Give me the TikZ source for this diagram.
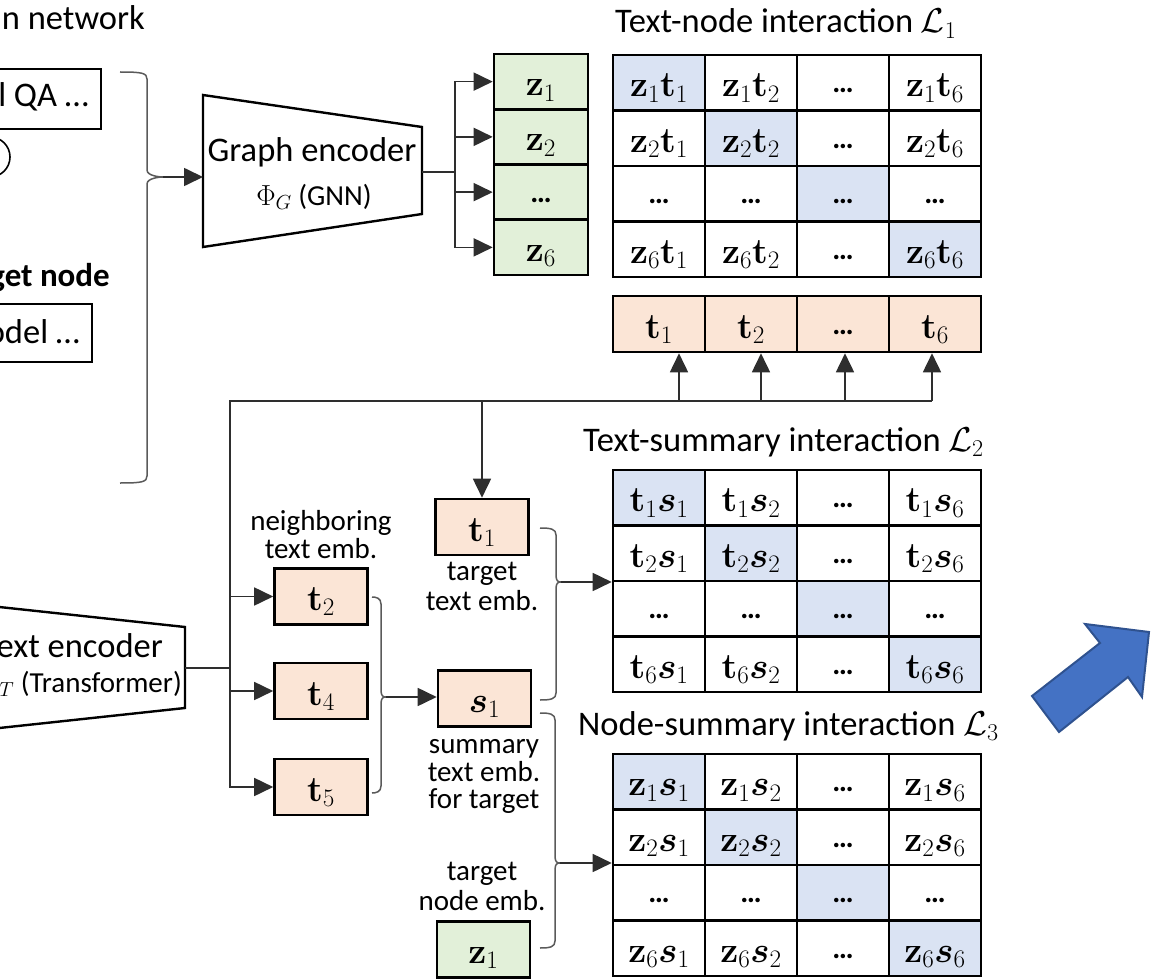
\documentclass[tikz,border=0pt]{standalone}
\usepackage{fix-cm}
\usepackage{amsmath,bm}
\usepackage[no-math]{fontspec}
\setmainfont{Carlito}
\usetikzlibrary{arrows.meta}

\definecolor{peach}{HTML}{FBE5D6}
\definecolor{leaf}{HTML}{E2F0D9}
\definecolor{diagblue}{HTML}{DAE3F3}
\definecolor{wire}{HTML}{2E2E2E}
\definecolor{bracegrey}{HTML}{5A5A5A}
\definecolor{arrowblue}{HTML}{4472C4}
\definecolor{arrowedge}{HTML}{2F528F}

\newcommand\ttlfont{\fontsize{34.5}{40}\selectfont}
\newcommand\lblfont{\fontsize{29}{28}\selectfont}
\newcommand\cellfont{\fontsize{36}{40}\selectfont}
\newcommand\dotsx{\raisebox{4pt}{\fontsize{30}{30}\selectfont\bfseries …}}

% cell contents of the three interaction matrices
\newcommand\zt[2]{$\mathbf{z}_{#1}\mathbf{t}_{#2}$}
\newcommand\ts[2]{$\mathbf{t}_{#1}\bm{s}_{#2}$}
\newcommand\zs[2]{$\mathbf{z}_{#1}\bm{s}_{#2}$}

\tikzset{
  wire/.style={draw=wire, line width=1.7pt},
  arr/.style={wire, -{Triangle[length=19pt,width=18pt]}},
  brace/.style={draw=bracegrey, line width=1.5pt},
  cell/.style={draw=black, line width=2.6pt, minimum width=92pt, minimum height=55.5pt,
    inner sep=0pt, text height=34pt, text depth=6pt, font=\cellfont},
  emb/.style={cell, minimum width=93pt, minimum height=56pt},
  lbl/.style={font=\lblfont, inner sep=0pt, anchor=base},
  title/.style={font=\ttlfont, inner sep=0pt, anchor=base west},
  encoder/.style={draw=black, line width=2.4pt, line join=miter},
  cropbox/.style={draw=black, line width=2.4pt, inner sep=0pt, anchor=north east},
}

% 4x4 interaction grid: #1 name prefix, #2 left x, #3 top y, #4 content macro
\newcommand\interactiongrid[4]{%
  \foreach \rw/\ri in {1/1,2/2,3/0,4/6}{%
    \foreach \cl/\ci in {1/1,2/2,3/0,4/6}{%
      \ifnum\rw=\cl\relax\def\cellfill{diagblue}\else\def\cellfill{white}\fi
      \node[cell, fill=\cellfill] (#1-\rw-\cl) at ({#2+92*(\cl-0.5)},{#3+55.5*(\rw-0.5)})
        {\ifnum\ri=0 \dotsx\else\ifnum\ci=0 \dotsx\else#4{\ri}{\ci}\fi\fi};
    }%
  }%
}

% brace: #1 x of the ends, #2 top y, #3 bottom y, #4 x of the spine, #5/#6 tip
\newcommand\bracepath[6]{%
  \draw[brace] (#1,#2) .. controls ({#4-5},#2) and (#4,{#2+1}) .. (#4,{#2+7})
    -- (#4,{#6-7}) .. controls (#4,{#6-1}) and ({#5-3},#6) .. (#5,#6)
    .. controls ({#5-3},#6) and (#4,{#6+1}) .. (#4,{#6+7})
    -- (#4,{#3-7}) .. controls (#4,{#3-1}) and ({#4-5},#3) .. (#1,#3);
}

\begin{document}
\begin{tikzpicture}[x=1pt, y=-1pt]
\useasboundingbox (0,0) rectangle (1152,979);

% ---------------- input graph (left) ----------------
\node[title, anchor=base east] (net) at (145,30) {n network};
\node[cropbox, minimum width=170pt, minimum height=60pt] (qa) at (102,68) {};
\node[title, anchor=base east] (qa-text) at (89,107) {l QA …};
\node[draw=black, line width=1.6pt, circle, minimum size=40pt, inner sep=0pt] (vert) at (-10,157) {};
\node[title, anchor=base east, font=\fontsize{33}{36}\selectfont\bfseries] (tgt) at (110,286) {get node};
\node[cropbox, minimum width=170pt, minimum height=58pt] (mdl) at (93,303) {};
\node[title, anchor=base east] (mdl-text) at (80,343) {odel …};

\bracepath{120}{72}{483}{147}{163}{177}
\coordinate (inbrace) at (163,177);

% ---------------- graph encoder ----------------
\draw[encoder, fill=white] (203,95) -- (422,127) -- (422,214) -- (203,247) -- cycle;
\node[title, anchor=base] (genc) at (312,162) {Graph encoder};
\node[lbl] (genc-sub) at (314,205) {$\Phi_G$ (GNN)};
\coordinate (genc-in) at (203,177);
\coordinate (genc-out) at (422,172);
\coordinate (gsplit) at (455,172);
\draw[arr] (inbrace) -- (genc-in);
\draw[wire] (genc-out) -- (gsplit);

% node embeddings
\foreach \i/\c in {1/{$\mathbf{z}_1$},2/{$\mathbf{z}_2$},3/{\dotsx},4/{$\mathbf{z}_6$}}{
  \node[cell, fill=leaf, minimum width=94pt, minimum height=55.25pt] (zc-\i) at (541,{54+55.25*(\i-0.5)}) {\c};
}
\foreach \i in {1,...,4}{ \draw[arr] (gsplit) |- (zc-\i.west); }

% ---------------- text-node interaction ----------------
\node[title] (L1title) at (615,33) {Text-node interaction $\mathcal{L}_1$};
\interactiongrid{A}{613}{55}{\zt}
\foreach \i/\c in {1/{$\mathbf{t}_1$},2/{$\mathbf{t}_2$},3/{\dotsx},4/{$\mathbf{t}_6$}}{
  \node[cell, fill=peach, minimum height=56pt] (tr-\i) at ({613+92*(\i-0.5)},324) {\c};
}

% ---------------- text encoder ----------------
\draw[encoder, fill=white] (-10,606) -- (185,627) -- (185,708) -- (-10,729);
\node[title, anchor=base east] (tenc) at (163,657) {ext encoder};
\node[lbl, anchor=base east] (tenc-sub) at (182,692) {$\Phi_T$ (Transformer)};
\coordinate (tenc-out) at (185,668);
\coordinate (tsplit) at (230,668);
\coordinate (bus-west) at (230,401);
\coordinate (bus-t) at (482,401);
\coordinate (bus-1) at (679,401);
\coordinate (bus-2) at (761,401);
\coordinate (bus-3) at (845,401);
\coordinate (bus-4) at (932,401);
\draw[wire] (tenc-out) -- (tsplit) -- (bus-west) -- (bus-4);
\foreach \i in {1,...,4}{ \draw[arr] (bus-\i) -- (bus-\i |- tr-\i.south); }

% text embeddings
\node[emb, fill=peach] (t1) at (482,527) {$\mathbf{t}_1$};
\node[lbl] (t1-l1) at (482,580) {target};
\node[lbl] (t1-l2) at (482,610) {text emb.};
\draw[arr] (bus-t) -- (t1.north);

\node[lbl] (nb-l1) at (321,530) {neighboring};
\node[lbl] (nb-l2) at (321,558) {text emb.};
\node[emb, fill=peach] (t2) at (321,596.5) {$\mathbf{t}_2$};
\node[emb, fill=peach] (t4) at (321,691) {$\mathbf{t}_4$};
\node[emb, fill=peach] (t5) at (321,787) {$\mathbf{t}_5$};
\draw[arr] (tsplit) |- (t2.west);
\draw[arr] (tsplit) |- (t4.west);
\draw[arr] (tsplit) |- (t5.west);

\node[emb, fill=peach] (s1) at (484.5,698.5) {$\bm{s}_1$};
\node[lbl] (s1-l1) at (484,753) {summary};
\node[lbl] (s1-l2) at (484,781) {text emb.};
\node[lbl] (s1-l3) at (484,808) {for target};

\node[lbl] (z1-l1) at (482,880) {target};
\node[lbl] (z1-l2) at (482,910) {node emb.};
\node[emb, fill=leaf] (z1) at (483.5,949.5) {$\mathbf{z}_1$};

% neighbours gathered into the summary
\bracepath{372}{597}{793}{381}{386}{697}
\coordinate (nbrace) at (386,697);
\draw[arr] (nbrace) -- (nbrace -| s1.west);

% ---------------- text-summary interaction ----------------
\node[title] (L2title) at (583,451) {Text-summary interaction $\mathcal{L}_2$};
\interactiongrid{B}{613}{470}{\ts}
\bracepath{540}{528}{700}{556}{561}{582}
\coordinate (tsbrace) at (561,582);
\draw[arr] (tsbrace) -- (tsbrace -| B-1-1.west);

% ---------------- node-summary interaction ----------------
\node[title] (L3title) at (578,735) {Node-summary interaction $\mathcal{L}_3$};
\interactiongrid{C}{613}{754}{\zs}
\bracepath{540}{713}{948}{555}{560}{863}
\coordinate (nsbrace) at (560,863);
\draw[arr] (nsbrace) -- (nsbrace -| C-1-1.west);

% ---------------- block arrow ----------------
\draw[fill=arrowblue, draw=arrowedge, line width=2pt, line join=miter]
  (1032,696) -- (1100,643) -- (1085,624) -- (1149,632) -- (1142,697) -- (1128,677) -- (1059,732) -- cycle;
\end{tikzpicture}
\end{document}
